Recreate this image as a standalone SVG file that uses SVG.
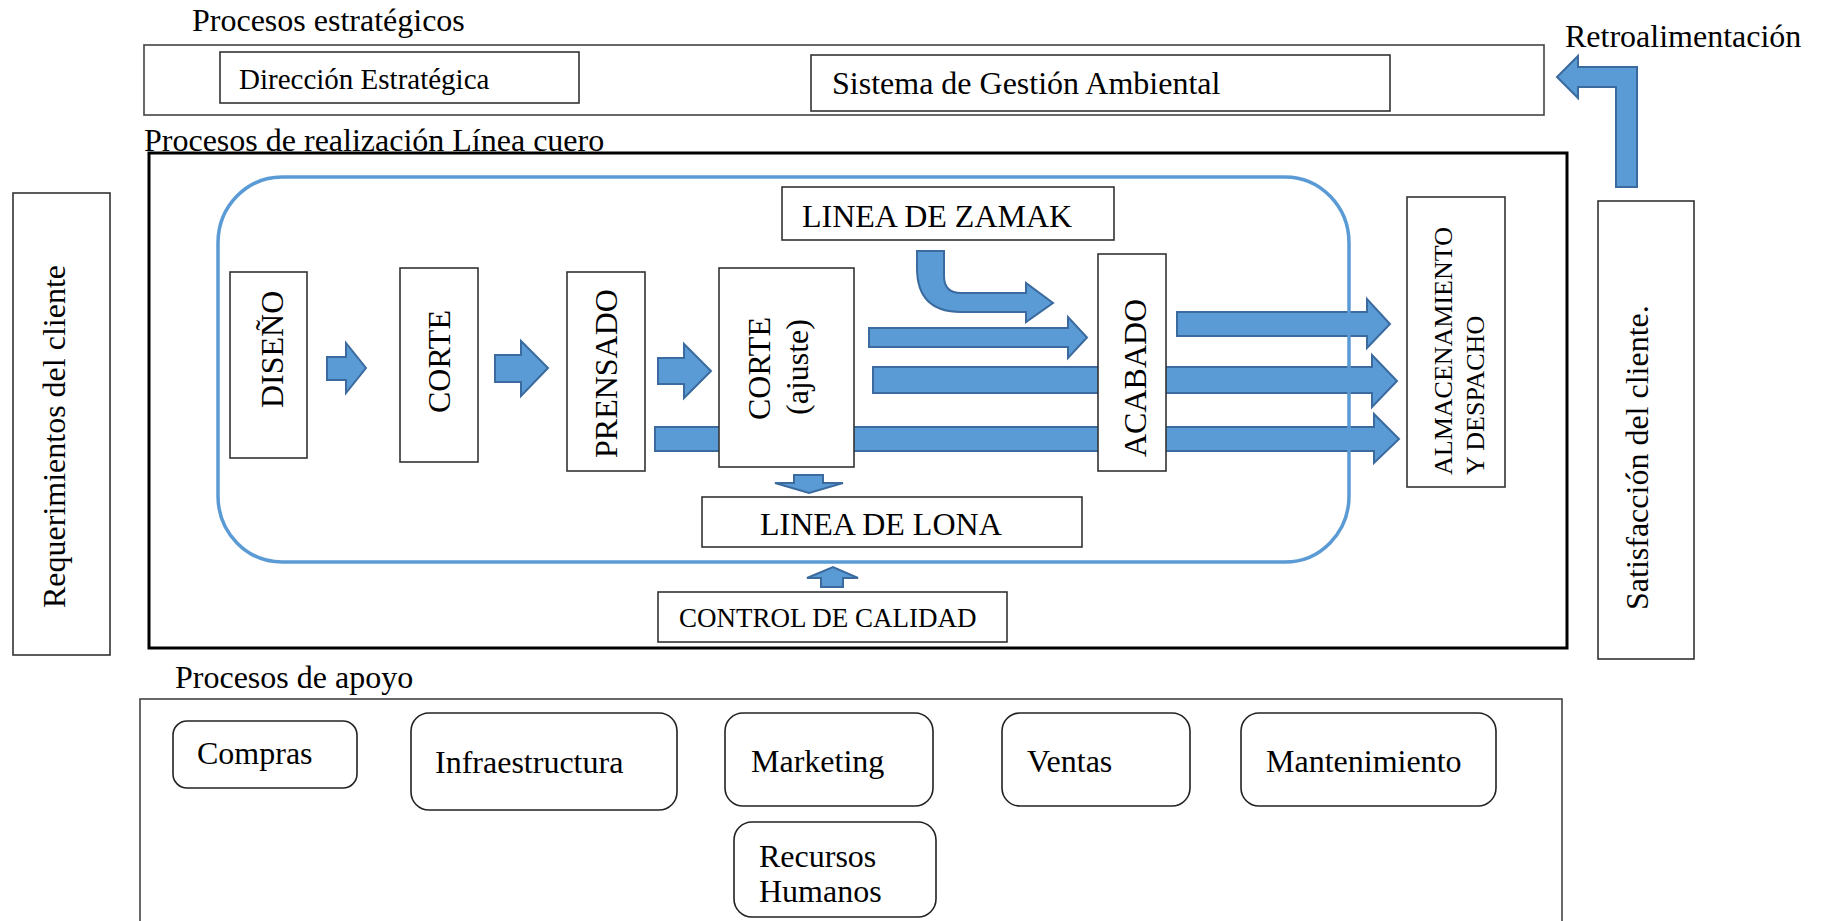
<svg xmlns="http://www.w3.org/2000/svg" width="1824" height="921" viewBox="0 0 1824 921">
  <style>
    text { font-family: "Liberation Serif", "Times New Roman", serif; fill: #000; }
    .lbl { font-size: 32px; }
    .box { fill: #fff; stroke: #333; stroke-width: 1.6; }
    .frame { fill: none; stroke: #444; stroke-width: 1.6; }
    .main { fill: none; stroke: #000; stroke-width: 3; }
    .lane { fill: none; stroke: #5B9BD5; stroke-width: 3.5; }
    .rbox { fill: #fff; stroke: #222; stroke-width: 1.6; }
    .arrow { fill: #5B9BD5; stroke: #3A6A9E; stroke-width: 2; stroke-linejoin: miter; }
  </style>

  <rect width="1824" height="921" fill="#fff"/>

  <!-- Strategic processes -->
  <g id="strategic">
    <text class="lbl" x="192" y="31">Procesos estratégicos</text>
    <rect class="frame" x="144" y="45" width="1400" height="70"/>
  </g>
  <g id="direccion">
    <rect class="box" x="220" y="52" width="359" height="51"/>
    <text x="239" y="89" style="font-size:29px">Dirección Estratégica</text>
  </g>
  <g id="sga">
    <rect class="box" x="811" y="55" width="579" height="56"/>
    <text class="lbl" x="832" y="94">Sistema de Gestión Ambiental</text>
  </g>
  <g id="retro-label">
    <text class="lbl" x="1565" y="47">Retroalimentación</text>
  </g>

  <!-- Customer requirements -->
  <g id="requerimientos">
    <rect class="box" x="13" y="193" width="97" height="462"/>
    <text class="lbl" transform="translate(65,608) rotate(-90)">Requerimientos del cliente</text>
  </g>

  <!-- Realization processes -->
  <g id="realizacion">
    <text class="lbl" x="144" y="151">Procesos de realización Línea cuero</text>
    <rect class="main" x="149" y="153" width="1418" height="495"/>
  </g>

  <!-- Connectors -->
  <g id="connectors">
    <polygon class="arrow" points="327,357 346,357 346,343 366,368 346,393 346,380 327,380"/>
    <polygon class="arrow" points="495,355 521,355 521,341 548,368 521,396 521,382 495,382"/>
    <polygon class="arrow" points="658,358 684,358 684,344 711,371 684,398 684,384 658,384"/>
    <polygon class="arrow" points="655,427 1374,427 1374,414 1399,439 1374,463 1374,451 655,451"/>
    <polygon class="arrow" points="873,367 1372,367 1372,355 1397,381 1372,407 1372,393 873,393"/>
    <polygon class="arrow" points="869,328 1068,328 1068,317 1087,337.5 1068,358 1068,347 869,347"/>
    <polygon class="arrow" points="1177,312 1367,312 1367,299 1390,324 1367,348 1367,336 1177,336"/>
    <path class="arrow" d="M917,251 L944,251 L944,276 Q944,293 961,293 L1026,293 L1026,283 L1053,303 L1026,322 L1026,312 L961,312 Q917,312 917,268 Z"/>
    <polygon class="arrow" points="794,475 823,475 823,483 843,483 809,493 775,483 794,483"/>
    <polygon class="arrow" points="821,587 843,587 843,578 858,578 833,567 807,578 821,578"/>
    <polygon class="arrow" points="1637,187 1616,187 1616,87 1578,87 1578,98 1557,77 1578,56 1578,67 1637,67"/>
  </g>

  <rect id="lane" class="lane" x="218" y="177" width="1131" height="385" rx="64" ry="66"/>

  <g id="diseno">
    <rect class="box" x="230" y="272" width="77" height="186"/>
    <text class="lbl" transform="translate(283,408) rotate(-90)">DISEÑO</text>
  </g>
  <g id="corte">
    <rect class="box" x="400" y="268" width="78" height="194"/>
    <text class="lbl" transform="translate(450,413) rotate(-90)">CORTE</text>
  </g>
  <g id="prensado">
    <rect class="box" x="567" y="272" width="78" height="199"/>
    <text class="lbl" transform="translate(617,458) rotate(-90)">PRENSADO</text>
  </g>
  <g id="corte-ajuste">
    <rect class="box" x="719" y="268" width="135" height="199"/>
    <text class="lbl" transform="translate(770,420) rotate(-90)">CORTE</text>
    <text class="lbl" transform="translate(808,415) rotate(-90)">(ajuste)</text>
  </g>
  <g id="zamak">
    <rect class="box" x="782" y="187" width="332" height="53"/>
    <text class="lbl" x="802" y="227">LINEA DE ZAMAK</text>
  </g>
  <g id="acabado">
    <rect class="box" x="1098" y="254" width="68" height="217"/>
    <text class="lbl" transform="translate(1146,457) rotate(-90)">ACABADO</text>
  </g>
  <g id="lona">
    <rect class="box" x="702" y="497" width="380" height="50"/>
    <text class="lbl" x="760" y="535">LINEA DE LONA</text>
  </g>
  <g id="control">
    <rect class="box" x="658" y="592" width="349" height="50"/>
    <text x="679" y="627" style="font-size:27px">CONTROL DE CALIDAD</text>
  </g>
  <g id="almacenamiento">
    <rect class="box" x="1407" y="197" width="98" height="290"/>
    <text transform="translate(1452,475) rotate(-90)" style="font-size:26px">ALMACENAMIENTO</text>
    <text transform="translate(1484,475) rotate(-90)" style="font-size:26px">Y DESPACHO</text>
  </g>

  <!-- Customer satisfaction -->
  <g id="satisfaccion">
    <rect class="box" x="1598" y="201" width="96" height="458"/>
    <text class="lbl" transform="translate(1648,610) rotate(-90)">Satisfacción del cliente.</text>
  </g>

  <!-- Support processes -->
  <g id="apoyo">
    <text class="lbl" x="175" y="688">Procesos de apoyo</text>
    <rect class="frame" x="140" y="699" width="1422" height="260"/>
  </g>
  <g id="compras">
    <rect class="rbox" x="173" y="721" width="184" height="67" rx="14"/>
    <text class="lbl" x="197" y="764">Compras</text>
  </g>
  <g id="infraestructura">
    <rect class="rbox" x="411" y="713" width="266" height="97" rx="18"/>
    <text class="lbl" x="435" y="773">Infraestructura</text>
  </g>
  <g id="marketing">
    <rect class="rbox" x="725" y="713" width="208" height="93" rx="18"/>
    <text class="lbl" x="751" y="772">Marketing</text>
  </g>
  <g id="ventas">
    <rect class="rbox" x="1002" y="713" width="188" height="93" rx="18"/>
    <text class="lbl" x="1027" y="772">Ventas</text>
  </g>
  <g id="mantenimiento">
    <rect class="rbox" x="1241" y="713" width="255" height="93" rx="18"/>
    <text class="lbl" x="1266" y="772">Mantenimiento</text>
  </g>
  <g id="rrhh">
    <rect class="rbox" x="734" y="822" width="202" height="95" rx="18"/>
    <text class="lbl" x="759" y="867">Recursos</text>
    <text class="lbl" x="759" y="902">Humanos</text>
  </g>
</svg>
